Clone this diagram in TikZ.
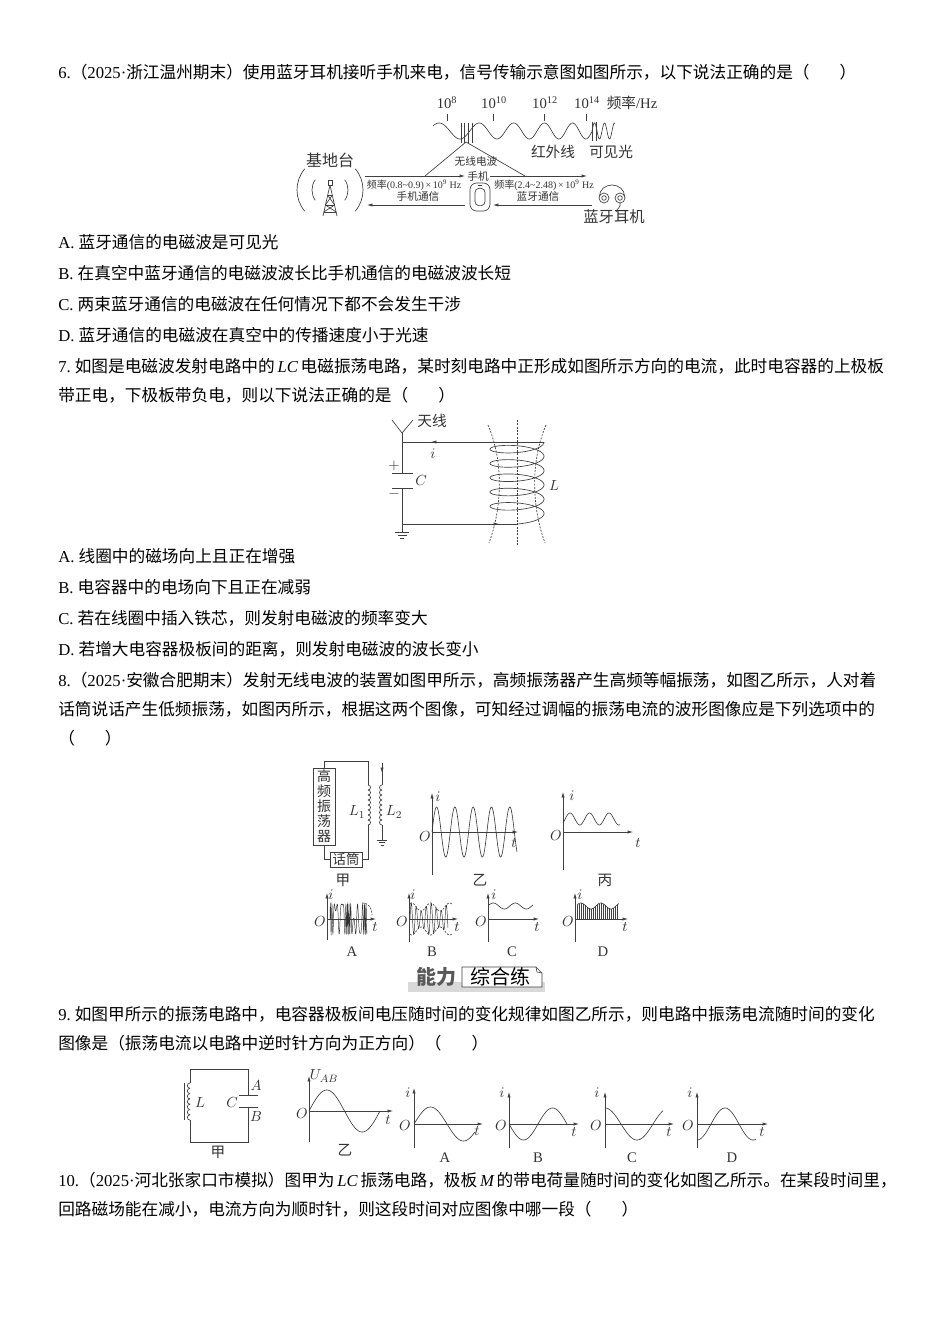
\documentclass[tikz,border=0pt]{standalone}
\usepackage{fontspec}
\setmainfont{Noto Sans CJK SC}
\newfontfamily\lat{Liberation Serif}
\usetikzlibrary{arrows.meta}
\XeTeXlinebreaklocale "zh"
\XeTeXlinebreakskip=0pt plus 1.5pt
\newcommand{\en}[1]{{\lat #1}}
\newcommand{\enit}[1]{{\lat\itshape #1}}
\newcommand{\fullline}[1]{\hbox to 622.5pt{#1}}
\newcommand{\src}[1]{（\en{2025·}#1）}
\tikzset{
  txt/.style={anchor=west,inner sep=0pt,font=\fontsize{12.5}{15}\selectfont},
  small/.style={inner sep=0pt,font=\fontsize{7.5}{8}\selectfont,text=black!80},
  mid/.style={inner sep=0pt,font=\fontsize{11}{12}\selectfont,text=black!80},
  wire/.style={line width=0.5pt,draw=black!75},
  arr/.style={wire,-{Latex[length=4pt,width=2.4pt]}},
  wave/.style={line width=0.45pt,draw=black!80},
  envl/.style={wire,dashed,dash pattern=on 1.5pt off 1pt},
}
\begin{document}
\begin{tikzpicture}[x=0.75pt,y=0.75pt]
\fill[white] (0,0) rectangle (950,-1344);
\useasboundingbox (0,0) rectangle (950,-1344);

% question 6
\node[txt] (q6) at (58,-72) {\en{6.}\src{浙江温州期末}使用蓝牙耳机接听手机来电，信号传输示意图如图所示，以下说法正确的是（\hspace{1.8em}）};
\node[mid] (e8) at (447,-103) {\en{10\textsuperscript{8}}};
\node[mid] (e10) at (494,-103) {\en{10\textsuperscript{10}}};
\node[mid] (e12) at (545,-103) {\en{10\textsuperscript{12}}};
\node[mid] (e14) at (587,-103) {\en{10\textsuperscript{14}}};
\node[mid] (fhz) at (632,-103) {频率\en{/Hz}};
\foreach \tx in {447,493,544,586} \draw[wire] (\tx,-114) -- (\tx,-121);
\draw[wave] plot[domain=0:159,samples=300] ({433+\x},{-131-8*cos(360*(\x/45+0.533*(\x/100)*(\x/100))-230)});
\draw[wave] plot[domain=0:23,samples=80] ({592+\x},{-131+8*sin(\x*36)});
\foreach \vx in {461,464,468,472} \draw[wire] (\vx,-123) -- (\vx,-143);
\foreach \vx in {592,596} \draw[wire] (\vx,-122) -- (\vx,-141);
\node[mid] (ir) at (553,-152) {红外线};
\node[mid] (vis) at (611,-152) {可见光};
\coordinate (src) at (466,-142);
\coordinate (wl) at (425,-176);
\coordinate (wr) at (525,-176);
\draw[wire] (wl) -- (src) -- (wr);
\node[small,font=\fontsize{8}{9}\selectfont] (radio) at (476,-161) {无线电波};
\node[small,font=\fontsize{8}{9}\selectfont] (phlbl) at (478,-176) {手机};
% base station
\node[mid,font=\fontsize{12}{13}\selectfont] (base) at (330,-160) {基地台};
\coordinate (tw) at (330,-190);
\draw[wire] (tw) ++(140:33) arc (140:220:33);
\draw[wire] (tw) ++(-40:33) arc (-40:40:33);
\draw[wire] (tw) ++(145:18) arc (145:215:18);
\draw[wire] (tw) ++(-35:18) arc (-35:35:18);
\draw[wire] (328,-180) rectangle (332,-185);
\draw[wire] (330,-185) -- (323,-216) (330,-185) -- (337,-216);
\draw[wire] (327.6,-195) -- (332.4,-195) (325.4,-205) -- (334.6,-205) (323.8,-212) -- (336.2,-212);
\draw[wire] (327.6,-195) -- (334.6,-205) (332.4,-195) -- (325.4,-205);
\draw[wire] (325.4,-205) -- (336.2,-212) (334.6,-205) -- (323.8,-212);
% phone
\node[draw,wire,rounded corners=5pt,minimum width=15pt,minimum height=21pt] (phone) at (480,-197) {};
\node[draw,wire,rounded corners=3pt,minimum width=7.5pt,minimum height=13pt] (screen) at (480,-197) {};
\draw[wire] (478,-185.5) -- (482,-185.5);
% earphones
\coordinate (ear) at (612,-197);
\draw[wire] (604,-198) circle (5) (620,-198) circle (5);
\draw[wire] (604,-198) circle (2.3) (620,-198) circle (2.3);
\draw[wire] (599.5,-196) arc (180:0:12.5 and 11);
\draw[wire] (620,-203) .. controls (621,-208) and (617,-208) .. (616,-212);
\node[mid,font=\fontsize{11.5}{12}\selectfont] (bte) at (614,-217) {蓝牙耳机};
% signal arrows
\coordinate (a1s) at (365,-176);
\coordinate (a1e) at (465,-176);
\coordinate (a2s) at (490,-176);
\coordinate (a2e) at (587,-176);
\coordinate (b1s) at (465,-205);
\coordinate (b1e) at (367,-205);
\coordinate (b2s) at (592,-205);
\coordinate (b2e) at (493,-205);
\draw[arr] (a1s) -- (a1e);
\draw[arr] (a2s) -- (a2e);
\draw[arr] (b1s) -- (b1e);
\draw[arr] (b2s) -- (b2e);
\node[small] (f1) at (414,-185) {频率\en{(0.8\textasciitilde0.9)\,×\,10\textsuperscript{9} Hz}};
\node[small] (f2) at (544,-185) {频率\en{(2.4\textasciitilde2.48)\,×\,10\textsuperscript{9} Hz}};
\node[small,font=\fontsize{8}{9}\selectfont] (c1) at (418,-196) {手机通信};
\node[small,font=\fontsize{8}{9}\selectfont] (c2) at (538,-196) {蓝牙通信};

\node[txt] (q6a) at (58,-242) {\en{A. }蓝牙通信的电磁波是可见光};
\node[txt] (q6b) at (58,-273) {\en{B. }在真空中蓝牙通信的电磁波波长比手机通信的电磁波波长短};
\node[txt] (q6c) at (58,-304) {\en{C. }两束蓝牙通信的电磁波在任何情况下都不会发生干涉};
\node[txt] (q6d) at (58,-335) {\en{D. }蓝牙通信的电磁波在真空中的传播速度小于光速};

% question 7
\node[txt] (q7) at (58,-366) {\fullline{\en{7.}\kern3pt 如图是电磁波发射电路中的\enit{\,LC\,}电磁振荡电路，某时刻电路中正形成如图所示方向的电流，此时电容器的上极板}};
\node[txt] (q7b) at (58,-395) {带正电，下极板带负电，则以下说法正确的是（\hspace{1.8em}）};
\coordinate (ant) at (402,-433);
\draw[wire] (392,-420) -- (ant) -- (413,-420);
\node[mid] (antl) at (432,-421) {天线};
\coordinate (tl) at (402,-442);
\coordinate (tr) at (544,-442);
\coordinate (bl) at (402,-524);
\coordinate (br) at (517,-524);
\draw[wire] (ant) -- (402,-473);
\draw[wire] (402,-488) -- (402,-532);
\draw[wire] (392,-473) -- (413,-473) (392,-488) -- (413,-488);
\draw[wire] (tl) -- (tr);
\draw[arr] (441,-442) -- (431,-442);
\draw[wire] (bl) -- (br);
\draw[arr] (488,-524) -- (499,-524);
\draw[wire] (395,-532) -- (409,-532) (397.5,-535) -- (406.5,-535) (400,-538) -- (404,-538);
\node[mid] (il) at (433,-454) {$i$};
\node[mid] (pl) at (394,-466) {$+$};
\node[mid] (ml) at (394,-494) {$-$};
\node[mid] (cl) at (421,-481) {$C$};
\node[mid] (ll) at (554,-486) {$L$};
\draw[wire] plot[domain=0:1890,samples=400,smooth] ({517+27*cos(\x)},{-(442+7*sin(\x)+0.03972*\x)});
\draw[envl] (517,-420) -- (517,-545);
\draw[envl] (488,-425) .. controls (503,-460) and (503,-505) .. (489,-543);
\draw[envl] (546,-425) .. controls (531,-460) and (531,-505) .. (545,-543);

\node[txt] (q7oa) at (58,-556) {\en{A. }线圈中的磁场向上且正在增强};
\node[txt] (q7ob) at (58,-587) {\en{B. }电容器中的电场向下且正在减弱};
\node[txt] (q7oc) at (58,-618) {\en{C. }若在线圈中插入铁芯，则发射电磁波的频率变大};
\node[txt] (q7od) at (58,-649) {\en{D. }若增大电容器极板间的距离，则发射电磁波的波长变小};

% question 8
\node[txt] (q8) at (58,-680) {\fullline{\en{8.}\src{安徽合肥期末}发射无线电波的装置如图甲所示，高频振荡器产生高频等幅振荡，如图乙所示，人对着}};
\node[txt] (q8b) at (58,-709) {\fullline{话筒说话产生低频振荡，如图丙所示，根据这两个图像，可知经过调幅的振荡电流的波形图像应是下列选项中的}};
\node[txt] (q8c) at (58,-738) {（\hspace{1.8em}）};
\node[draw,wire,minimum width=16.5pt,minimum height=57.75pt,inner sep=0pt,align=center,font=\fontsize{10.5}{11.2}\selectfont,text=black!80] (osc) at (324,-806.5) {高\\频\\振\\荡\\器};
\node[draw,wire,minimum width=24pt,minimum height=11.25pt,inner sep=0pt,font=\fontsize{10}{11}\selectfont,text=black!80] (mic) at (346,-859.5) {话筒};
\draw[wire] (osc.north) -- (324,-761) -- (368,-761) -- (368,-785);
\foreach \k in {0,...,7} \draw[wire] (368,{-785-5*\k}) arc (90:-90:2.5);
\draw[wire] (368,-825) -- (368,-859.5) -- (mic.east);
\draw[wire] (osc.south) -- (324,-859.5) -- (mic.west);
\draw[wire] (382,-763) -- (382,-785);
\draw[arr] (382,-763) -- (382,-773);
\foreach \k in {0,...,7} \draw[wire] (382,{-785-5*\k}) arc (90:270:2.5);
\draw[wire] (382,-825) -- (382,-840);
\draw[wire] (377,-840) -- (387,-840) (379,-842.5) -- (385,-842.5) (380.5,-845) -- (383.5,-845);
\node[mid] (l1) at (357,-812) {$L_1$};
\node[mid] (l2) at (394,-812) {$L_2$};
\node[mid] (jia) at (343,-880) {甲};
% graph yi
\coordinate (o2) at (432,-832);
\draw[arr] (432,-875) -- (432,-793);
\draw[arr] (o2) -- (518,-832);
\draw[wave] plot[domain=0:85,samples=300] ({432+\x},{-832+25*sin(\x*(360/18.3))});
\node[mid] (i2) at (438,-797) {$i$};
\node[mid] (o2l) at (425,-837) {$O$};
\node[mid] (t2) at (514,-843) {$t$};
\node[mid] (yi) at (480,-880) {乙};
% graph bing
\coordinate (o3) at (563,-832);
\draw[arr] (563,-870) -- (563,-792);
\draw[arr] (o3) -- (633,-832);
\draw[wave] plot[domain=0:57,samples=100,smooth] ({563+\x},{-819+6*sin(\x*(360/19.5)-40)});
\node[mid] (i3) at (572,-796) {$i$};
\node[mid] (o3l) at (556,-836) {$O$};
\node[mid] (t3) at (638,-843) {$t$};
\node[mid] (bing) at (605,-880) {丙};
% options A-D
\coordinate (oa) at (327,-919);
\draw[arr] (327,-940) -- (327,-893);
\draw[arr] (oa) -- (376,-919);
\draw[wave,line width=0.35pt] plot[domain=0:37,samples=500] ({330+\x},{-919+15*sin(\x*72+500*sin(\x*20))});
\draw[envl] (362,-903) .. controls (369,-903) and (372,-908) .. (372,-915);
\node[mid] (ia) at (331,-895) {$i$};
\node[mid] (oal) at (320,-922) {$O$};
\node[mid] (ta) at (375,-927) {$t$};
\node[mid] (la) at (352,-952) {\en{A}};
\coordinate (ob) at (409,-919);
\draw[arr] (409,-942) -- (409,-893);
\draw[arr] (ob) -- (458,-919);
\draw[wave,line width=0.35pt] plot[domain=0:38,samples=500] ({410+\x},{-919+(12+4*sin(\x*(360/19)+60))*sin(\x*72)});
\draw[envl] plot[domain=0:42,samples=60] ({410+\x},{-919+12+4*sin(\x*(360/19)+60)});
\draw[envl] plot[domain=0:42,samples=60] ({410+\x},{-919-12-4*sin(\x*(360/19)+60)});
\node[mid] (ib) at (413,-895) {$i$};
\node[mid] (obl) at (402,-922) {$O$};
\node[mid] (tb) at (457,-927) {$t$};
\node[mid] (lb) at (432,-952) {\en{B}};
\coordinate (oc) at (488,-919);
\draw[arr] (488,-942) -- (488,-893);
\draw[arr] (oc) -- (539,-919);
\draw[wave] plot[domain=0:44,samples=80,smooth] ({489+\x},{-906+3*sin(\x*(360/22)+20)});
\node[mid] (ic) at (494,-895) {$i$};
\node[mid] (ocl) at (481,-922) {$O$};
\node[mid] (tc) at (537,-927) {$t$};
\node[mid] (lc) at (512,-952) {\en{C}};
\coordinate (od) at (575,-919);
\draw[arr] (575,-942) -- (575,-893);
\draw[arr] (od) -- (628,-919);
\foreach \u in {0,2,...,40} \draw[wire,line width=0.3pt] ({577+\u},-919) -- ({577+\u},{-906+3*sin(\u*18+20)});
\draw[wave] plot[domain=0:42,samples=80,smooth] ({577+\x},{-906+3*sin(\x*18+20)});
\node[mid] (id) at (580,-895) {$i$};
\node[mid] (odl) at (568,-922) {$O$};
\node[mid] (td) at (625,-927) {$t$};
\node[mid] (ld) at (603,-952) {\en{D}};

% banner
\fill[black!15] (408,-982) rectangle (545,-992);
\node[inner sep=0pt,font=\fontsize{15}{16}\selectfont\bfseries,text=black!65] (nl) at (436,-977) {能力};
\draw[wire,fill=white] (462,-967) -- (536,-967) -- (542,-973) -- (542,-987) -- (462,-987) -- cycle;
\draw[wire] (536,-967) -- (537,-972) -- (542,-973);
\node[inner sep=0pt,font=\fontsize{15}{16}\selectfont] (zh) at (500,-977) {综合练};

% question 9
\node[txt] (q9) at (58,-1014) {\fullline{\en{9.}\kern3pt 如图甲所示的振荡电路中，电容器极板间电压随时间的变化规律如图乙所示，则电路中振荡电流随时间的变化}};
\node[txt] (q9b) at (58,-1043) {图像是（振荡电流以电路中逆时针方向为正方向）（\hspace{1.8em}）};
\coordinate (tl9) at (190,-1069);
\coordinate (tr9) at (248,-1069);
\coordinate (bl9) at (190,-1142);
\coordinate (br9) at (248,-1142);
\draw[wire] (190,-1083) -- (tl9) -- (tr9) -- (248,-1095);
\draw[wire] (248,-1107) -- (br9) -- (bl9) -- (190,-1120);
\foreach \k in {0,...,6} \draw[wire] (190,{-1083-5.3*\k}) arc (90:270:2.65);
\draw[wire] (184,-1083) -- (184,-1120);
\draw[wire] (239,-1095) -- (258,-1095) (239,-1107) -- (258,-1107);
\node[mid] (l9) at (200,-1102) {$L$};
\node[mid] (c9) at (232,-1102) {$C$};
\node[mid] (a9) at (256,-1085) {$A$};
\node[mid] (b9) at (256,-1116) {$B$};
\node[mid] (jia9) at (218,-1152) {甲};
\coordinate (o9) at (309,-1111);
\draw[arr] (309,-1142) -- (309,-1076);
\draw[arr] (o9) -- (393,-1111);
\draw[wave] plot[domain=0:71,samples=100,smooth] ({309+\x},{-1111+21*sin(\x*(360/71))});
\node[mid] (u9) at (324,-1076) {$U_{AB}$};
\node[mid] (o9l) at (302,-1113) {$O$};
\node[mid] (t9) at (388,-1120) {$t$};
\node[mid] (yi9) at (345,-1150) {乙};
% choices
\coordinate (o9a) at (414,-1124);
\draw[arr] (414,-1148) -- (414,-1088);
\draw[arr] (o9a) -- (483,-1124);
\draw[wave] plot[domain=0:61,samples=100,smooth] ({414+\x},{-1124+17*sin(\x*(360/66))});
\node[mid] (i9a) at (408,-1093) {$i$};
\node[mid] (o9al) at (405,-1125) {$O$};
\node[mid] (t9a) at (477,-1131) {$t$};
\node[mid] (l9a) at (445,-1158) {\en{A}};
\coordinate (o9b) at (509,-1124);
\draw[arr] (509,-1148) -- (509,-1092);
\draw[arr] (o9b) -- (579,-1124);
\draw[wave] plot[domain=0:58,samples=100,smooth] ({509+\x},{-1124-16*sin(\x*(360/58))});
\node[mid] (i9b) at (502,-1093) {$i$};
\node[mid] (o9bl) at (501,-1125) {$O$};
\node[mid] (t9b) at (574,-1132) {$t$};
\node[mid] (l9b) at (538,-1158) {\en{B}};
\coordinate (o9c) at (605,-1124);
\draw[arr] (605,-1148) -- (605,-1092);
\draw[arr] (o9c) -- (674,-1124);
\draw[wave] plot[domain=0:58,samples=100,smooth] ({605+\x},{-1124+16*cos(\x*(360/64))});
\node[mid] (i9c) at (597,-1093) {$i$};
\node[mid] (o9cl) at (596,-1125) {$O$};
\node[mid] (t9c) at (669,-1132) {$t$};
\node[mid] (l9c) at (632,-1158) {\en{C}};
\coordinate (o9d) at (697,-1124);
\draw[arr] (697,-1148) -- (697,-1092);
\draw[arr] (o9d) -- (768,-1124);
\draw[wave] plot[domain=0:59,samples=100,smooth] ({697+\x},{-1124-16*cos(\x*(360/56))});
\node[mid] (i9d) at (690,-1093) {$i$};
\node[mid] (o9dl) at (688,-1125) {$O$};
\node[mid] (t9d) at (762,-1132) {$t$};
\node[mid] (l9d) at (732,-1158) {\en{D}};

% question 10
\node[txt] (q10) at (58,-1180) {\fullline{\en{10.}\src{河北张家口市模拟}图甲为\enit{\,LC\,}振荡电路，极板\enit{\,M\,}的带电荷量随时间的变化如图乙所示。在某段时间里，}};
\node[txt] (q10b) at (58,-1209) {回路磁场能在减小，电流方向为顺时针，则这段时间对应图像中哪一段（\hspace{1.8em}）};
\end{tikzpicture}
\end{document}
